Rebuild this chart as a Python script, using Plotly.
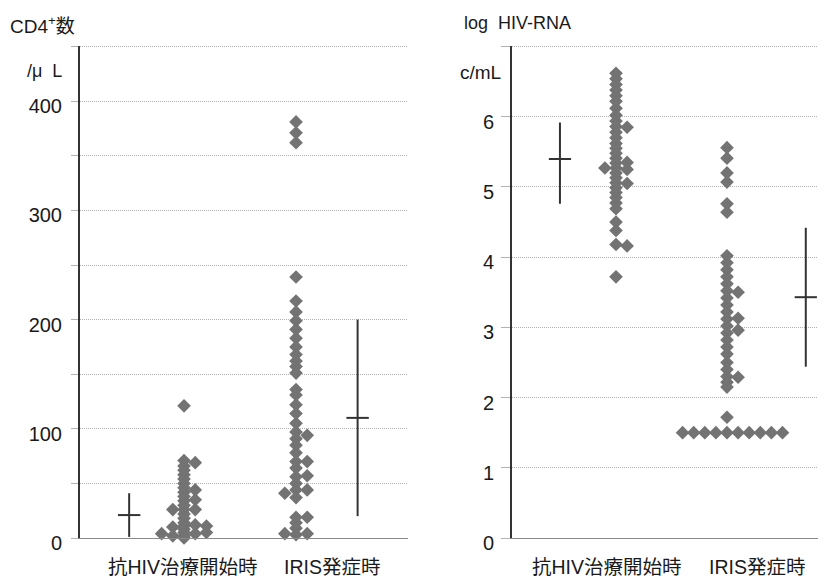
import plotly.graph_objects as go

# ---------------- data ----------------
groups = ["抗HIV治療開始時", "IRIS発症時"]

# CD4 count (/uL): values and swarm column slot (0 = centre, +n right, -n left)
cd4_pre_vals = [121, 71, 66, 62, 58, 54, 50, 46, 42, 38, 34, 30, 26, 22, 18, 14, 11, 8, 5, 2, 0,
                69, 44, 35, 26, 12, 4,
                11, 5,
                26, 10, 2,
                4]
cd4_pre_col = [0] * 21 + [1] * 6 + [2] * 2 + [-1] * 3 + [-2]

cd4_iris_vals = [381, 371, 362, 239, 217, 207, 199, 191, 183, 175, 168, 162, 157, 151, 136, 131,
                 122, 114, 105, 97, 91, 85, 78, 70, 64, 56, 50, 44, 37, 19, 14, 9, 3,
                 94, 70, 57, 44, 19, 4,
                 41, 4]
cd4_iris_col = [0] * 33 + [1] * 6 + [-1] * 2

# log HIV-RNA (c/mL)
rna_pre_vals = [6.62, 6.54, 6.46, 6.38, 6.30, 6.22, 6.12, 6.02, 5.94, 5.86, 5.78, 5.70, 5.62,
                5.55, 5.48, 5.41, 5.34, 5.27, 5.20, 5.13, 5.06, 4.99, 4.92, 4.85, 4.77, 4.69,
                4.50, 4.38, 4.18, 3.72,
                5.85, 5.35, 5.25, 5.05, 4.16,
                5.27]
rna_pre_col = [0] * 30 + [1] * 5 + [-1]

rna_iris_vals = [5.56, 5.41, 5.20, 5.07, 4.76, 4.64, 4.02, 3.92, 3.82, 3.72, 3.62, 3.52, 3.42,
                 3.32, 3.22, 3.12, 3.02, 2.92, 2.82, 2.72, 2.62, 2.50, 2.40, 2.30, 2.22, 2.15,
                 1.72, 1.50,
                 3.50, 3.13, 2.96, 2.29, 1.50,
                 1.50, 1.50, 1.50, 1.50,
                 1.50, 1.50, 1.50, 1.50]
rna_iris_col = [0] * 28 + [1] * 5 + [2, 3, 4, 5] + [-1, -2, -3, -4]

# mean and SD bars: mean, low, high
cd4_mean = [21, 110]
cd4_low = [1, 20]
cd4_high = [41, 200]
rna_mean = [5.40, 3.43]
rna_low = [4.76, 2.44]
rna_high = [5.92, 4.42]

cd4_ticks = [0, 50, 100, 150, 200, 250, 300, 350, 400, 450]
cd4_ticktext = ["0", "", "100", "", "200", "", "300", "", "400", ""]
rna_ticks = [0, 1, 2, 3, 4, 5, 6, 7]
rna_ticktext = ["0", "1", "2", "3", "4", "5", "6", ""]

# ---------------- layout constants ----------------
COL_STEP = 0.1
BAR_X = {"cd4": [0.51, 2.55], "rna": [0.495, 2.71]}
BAR_HALF = 0.1
LABEL_X = {"cd4": [0.99, 2.32], "rna": [0.92, 2.27]}
FONT = "Liberation Sans, Arial, Noto Sans CJK JP, sans-serif"
DOT_COLOR = "#737373"
BAR_COLOR = "#333333"
NB = "\u00a0"

fig = go.Figure()


def add_dots(vals, cols, centre, xa, ya):
    fig.add_trace(go.Scatter(
        x=[centre + c * COL_STEP for c in cols], y=vals, mode="markers",
        marker=dict(symbol="diamond", size=10.5, color=DOT_COLOR, line=dict(width=0)),
        xaxis=xa, yaxis=ya, showlegend=False, hoverinfo="y", cliponaxis=False))


def add_bar(xc, mean, low, high, xa, ya):
    fig.add_trace(go.Scatter(
        x=[xc, xc, None, xc - BAR_HALF, xc + BAR_HALF], y=[low, high, None, mean, mean],
        mode="lines", line=dict(color=BAR_COLOR, width=2), xaxis=xa, yaxis=ya,
        showlegend=False, hoverinfo="skip"))


add_dots(cd4_pre_vals, cd4_pre_col, 1, "x", "y")
add_dots(cd4_iris_vals, cd4_iris_col, 2, "x", "y")
add_dots(rna_pre_vals, rna_pre_col, 1, "x2", "y2")
add_dots(rna_iris_vals, rna_iris_col, 2, "x2", "y2")
for i in range(2):
    add_bar(BAR_X["cd4"][i], cd4_mean[i], cd4_low[i], cd4_high[i], "x", "y")
    add_bar(BAR_X["rna"][i], rna_mean[i], rna_low[i], rna_high[i], "x2", "y2")

ydom = [43 / 581, 535.5 / 581]
common_y = dict(showgrid=True, gridcolor="#b2b2b2", griddash="1px,1px", gridwidth=1,
                showline=True, linecolor="#333333", linewidth=2, zeroline=False,
                ticks="outside", tickcolor="#b2b2b2", tickfont=dict(size=20, color="#1a1a1a"),
                ticklabelshift=5, domain=ydom, fixedrange=True, automargin=False)
common_x = dict(showgrid=False, zeroline=False, showticklabels=False, ticks="",
                showline=True, linecolor="#8a8a8a", linewidth=1, fixedrange=True,
                automargin=False)

fig.update_layout(
    width=832, height=581, margin=dict(l=0, r=0, t=0, b=0, autoexpand=False),
    paper_bgcolor="white", plot_bgcolor="white",
    font=dict(family=FONT, color="#1a1a1a"),
    xaxis=dict(domain=[80 / 832, 408 / 832], range=[0.071, 3.0], **common_x),
    yaxis=dict(range=[0, 451], tickvals=cd4_ticks, ticktext=cd4_ticktext,
               ticklen=7, ticklabelstandoff=5, **common_y),
    xaxis2=dict(domain=[512 / 832, 818 / 832], range=[0.063, 2.82], anchor="y2", **common_x),
    yaxis2=dict(range=[0, 7.015], tickvals=rna_ticks, ticktext=rna_ticktext, anchor="x2",
                ticklen=9, ticklabelstandoff=3, **common_y),
)

ann = []
for i, g in enumerate(groups):
    ann.append(dict(text=g, x=LABEL_X["cd4"][i], xref="x", y=14 / 581, yref="paper",
                    showarrow=False, font=dict(size=19.5), xanchor="center", yanchor="middle"))
    ann.append(dict(text=g, x=LABEL_X["rna"][i], xref="x2", y=14 / 581, yref="paper",
                    showarrow=False, font=dict(size=19.5), xanchor="center", yanchor="middle"))
ann += [
    dict(text="CD4<sup>+</sup>数", x=8 / 832, y=1 - 25 / 581, xref="paper", yref="paper",
         xanchor="left", yanchor="middle", showarrow=False, font=dict(size=19)),
    dict(text="/μ" + NB + NB + "L", x=64 / 832, y=1 - 71 / 581, xref="paper", yref="paper",
         xanchor="right", yanchor="middle", showarrow=False, font=dict(size=18)),
    dict(text="log" + NB + NB + "HIV-RNA", x=462 / 832, y=1 - 23 / 581, xref="paper",
         yref="paper", xanchor="left", yanchor="middle", showarrow=False, font=dict(size=18)),
    dict(text="c/mL", x=503 / 832, y=1 - 72 / 581, xref="paper", yref="paper",
         xanchor="right", yanchor="middle", showarrow=False, font=dict(size=19)),
]
fig.update_layout(annotations=ann)

fig.write_html(
    "out.html",
    config={"displayModeBar": False},
    post_script="document.body.style.margin='0';document.body.style.overflow='hidden';",
)
